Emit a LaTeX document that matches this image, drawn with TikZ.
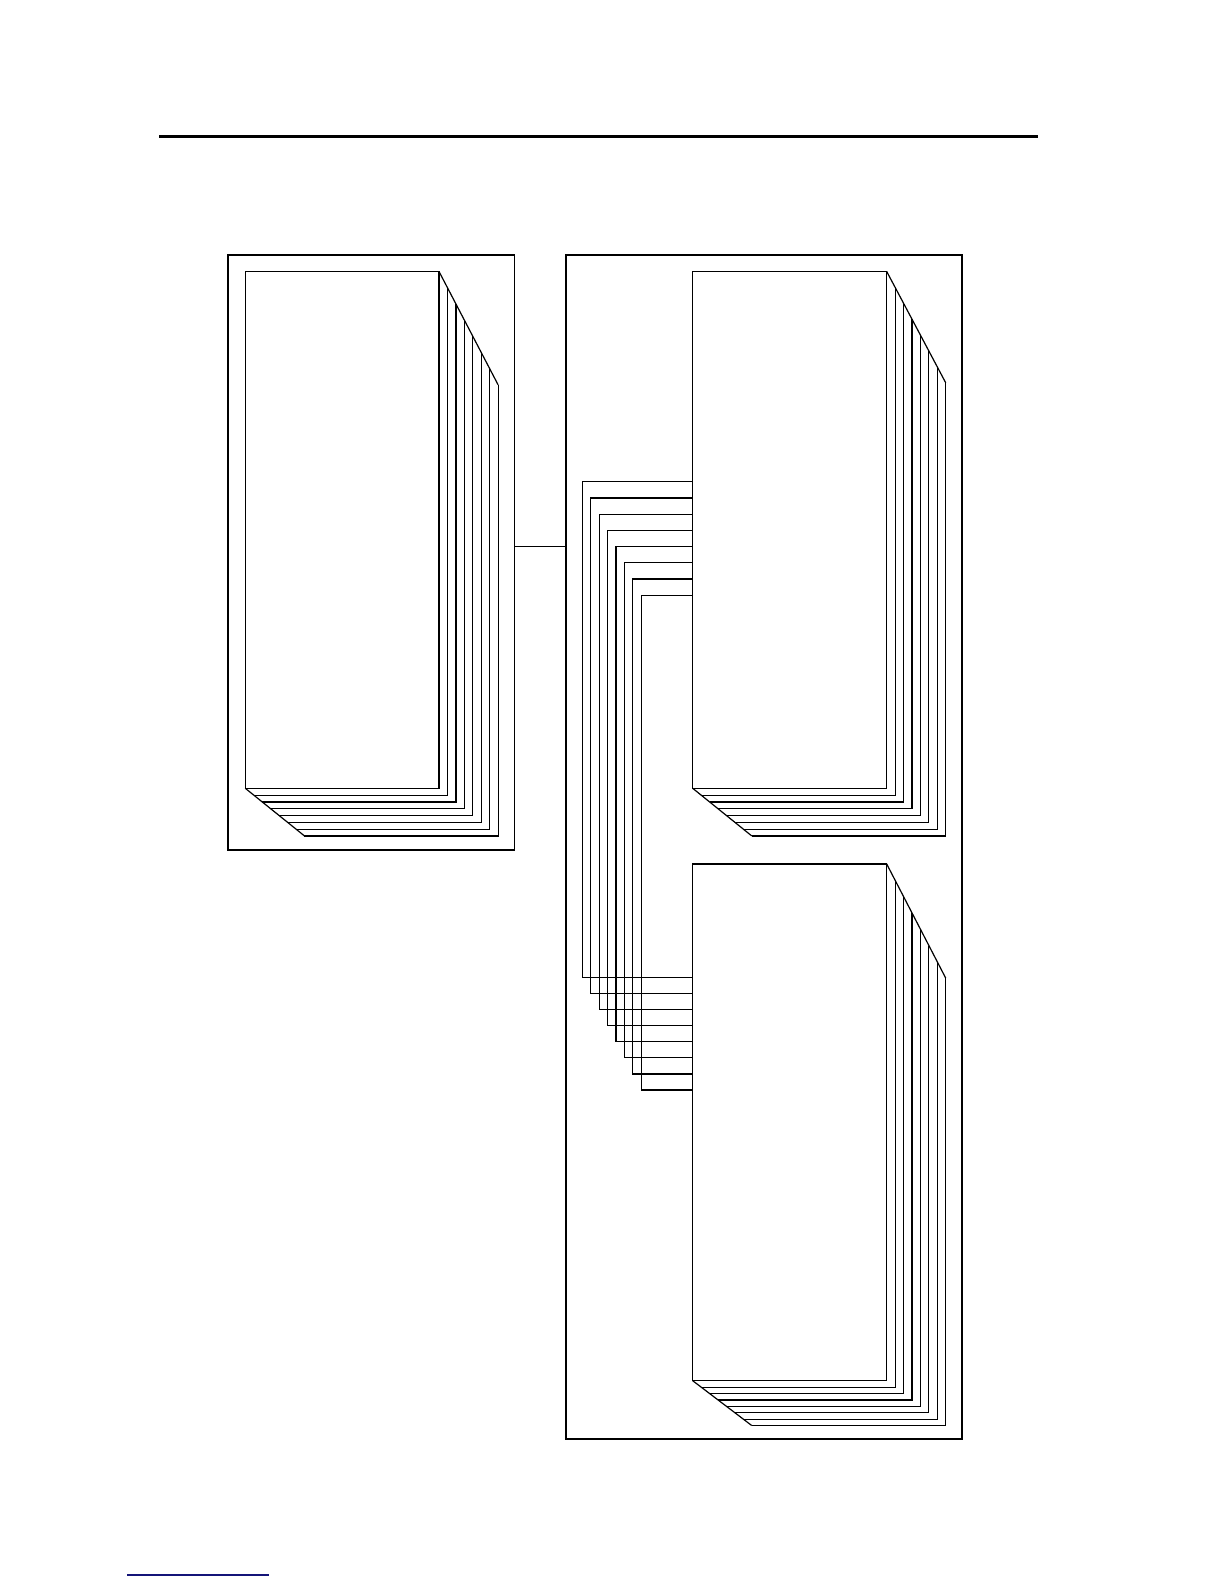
\documentclass[tikz,border=0pt]{standalone}
\newcommand\pagestack[7]{% x0 y0 x1 y1 dx dtop dbot
  \draw[pg] (#1,#2) rectangle (#3,#4);
  \foreach \k in {1,...,7}{
    \draw[pg] ({#3+\k*#5},{#2+\k*#6}) -- ({#3+\k*#5},{#4+\k*#7}) -- ({#1+\k*#5},{#4+\k*#7});
  }
  \draw[pg] (#3,#2) -- ({#3+7*#5},{#2+7*#6});
  \draw[pg] (#1,#4) -- ({#1+7*#5},{#4+7*#7});
}
\begin{document}
\begin{tikzpicture}[x=0.5pt,y=-0.5pt,
  pg/.style={line width=0.6pt,line join=miter},
  outer/.style={line width=0.9pt},
  wire/.style={line width=0.6pt}]
\useasboundingbox (0,0) rectangle (1224,1584);
% header rule
\coordinate (hl) at (159,137);
\coordinate (hr) at (1038,137);
\draw[line width=1.5pt] (hl) -- (hr);
% footer rule
\definecolor{navy}{RGB}{20,20,120}
\coordinate (fl) at (127,1575);
\coordinate (fr) at (269,1575);
\draw[navy,line width=0.8pt] (fl) -- (fr);
% outer boxes
\draw[outer] (227.7,255.3) rectangle (514.5,850);
\draw[outer] (565.7,255.3) rectangle (962.3,1438.7);
% link between the boxes
\coordinate (la) at (514.5,546.5);
\coordinate (lb) at (565.7,546.5);
\draw[wire] (la) -- (lb);
% page stacks
\pagestack{245.3}{271.5}{439}{788.3}{8.45}{16.2}{6.8}
\pagestack{692.7}{271.5}{886.7}{788.3}{8.43}{15.9}{6.8}
\pagestack{692.7}{864}{886.7}{1380.7}{8.43}{16.3}{6.4}
% wires between upper and lower stacks
\foreach \i in {0,...,7}{
  \coordinate (u\i) at (692.7,{481.7+16.2*\i});
  \coordinate (d\i) at (692.7,{977.3+16.1*\i});
  \coordinate (v\i) at ({582.3+8.43*\i},{977.3+16.1*\i});
  \draw[wire] (u\i) -| (v\i) -- (d\i);
}
\end{tikzpicture}
\end{document}
